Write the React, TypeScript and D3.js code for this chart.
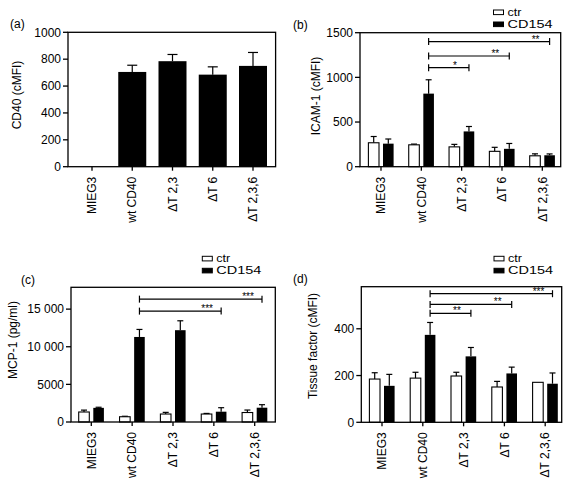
import React from "react";
import * as d3 from "d3";

const categories = ["MIEG3", "wt CD40", "ΔT 2,3", "ΔT 6", "ΔT 2,3,6"];

// (a) CD40
const cd40Mean = [0, 705, 785, 685, 750];
const cd40Err = [0, 50, 50, 58, 100];
const cd40Ticks = [0, 200, 400, 600, 800, 1000];

// (b) ICAM-1
const icamCtr = [268, 245, 222, 172, 122];
const icamCtrErr = [70, 8, 28, 45, 22];
const icamCd154 = [258, 818, 395, 200, 128];
const icamCd154Err = [52, 155, 55, 60, 15];
const icamTicks = [0, 500, 1000, 1500];
const icamSigTargets = ["ΔT 2,3", "ΔT 6", "ΔT 2,3,6"];
const icamSigLevels = [1108, 1239, 1401];
const icamSigLabels = ["*", "**", "**"];

// (c) MCP-1
const mcpCtr = [1330, 700, 1060, 1060, 1260];
const mcpCtrErr = [250, 60, 220, 80, 330];
const mcpCd154 = [1880, 11300, 12200, 1370, 1900];
const mcpCd154Err = [80, 1000, 1250, 530, 400];
const mcpTicks = [0, 5000, 10000, 15000];
const mcpTickLabels = ["0", "5000", "10 000", "15 000"];
const mcpSigTargets = ["ΔT 6", "ΔT 2,3,6"];
const mcpSigLevels = [14735, 16328];
const mcpSigLabels = ["***", "***"];

// (d) Tissue factor
const tfCtr = [185, 189, 198, 151, 171];
const tfCtrErr = [27, 25, 16, 24, 0];
const tfCd154 = [156, 374, 282, 209, 165];
const tfCd154Err = [49, 53, 38, 27, 46];
const tfTicks = [0, 200, 400];
const tfSigTargets = ["ΔT 2,3", "ΔT 6", "ΔT 2,3,6"];
const tfSigLevels = [466, 504, 550];
const tfSigLabels = ["**", "**", "***"];

const legendLabels = ["ctr", "CD154"];
const legendTextWidths = [14, 45];

const FONT = "'Liberation Sans', Arial, Helvetica, sans-serif";

type PanelCfg = {
  tag: string;
  title: string;
  left: number; right: number; top: number; bottom: number;
  x0: number; x1: number;
  yMax: number;
  ticks: number[];
  tickLabels?: string[];
  single?: { mean: number[]; err: number[] };
  pair?: { ctr: number[]; ctrErr: number[]; cd: number[]; cdErr: number[] };
  sig?: { targets: string[]; levels: number[]; labels: string[] };
  titleX: number; titleY: number;
  tagX: number; tagY: number;
  legend?: { x: number; y: number };
};

function Panel({ c }: { c: PanelCfg }) {
  const y = d3.scaleLinear().domain([0, c.yMax]).range([c.bottom, c.top]);
  const x = d3.scalePoint<string>().domain(categories).range([c.x0, c.x1]);
  const sw = 1.3;
  const off = 7.3;
  const bw = 10.6;
  const elems: React.ReactNode[] = [];

  const errBar = (key: string, cx: number, v: number, e: number, cap: number) => {
    if (e <= 0) return null;
    return (
      <g key={key}>
        <line x1={cx} x2={cx} y1={y(v)} y2={y(v + e)} stroke="#000" strokeWidth={1.2} />
        <line x1={cx - cap / 2} x2={cx + cap / 2} y1={y(v + e)} y2={y(v + e)} stroke="#000" strokeWidth={1.2} />
      </g>
    );
  };

  if (c.single) {
    const w = 28;
    c.single.mean.forEach((m, i) => {
      const cx = x(categories[i])!;
      if (m > 0) {
        elems.push(<rect key={"b" + i} x={cx - w / 2} y={y(m)} width={w} height={c.bottom - y(m)} fill="#000" />);
        elems.push(errBar("e" + i, cx, m, c.single!.err[i], 10));
      }
    });
  }
  if (c.pair) {
    const p = c.pair;
    categories.forEach((cat, i) => {
      const cx = x(cat)!;
      elems.push(errBar("ec" + i, cx - off, p.ctr[i], p.ctrErr[i], 6));
      elems.push(errBar("ed" + i, cx + off, p.cd[i], p.cdErr[i], 6));
      elems.push(
        <rect key={"c" + i} x={cx - off - bw / 2} y={y(p.ctr[i])} width={bw} height={c.bottom - y(p.ctr[i])}
          fill="#fff" stroke="#000" strokeWidth={1.1} />
      );
      elems.push(
        <rect key={"d" + i} x={cx + off - bw / 2} y={y(p.cd[i])} width={bw} height={c.bottom - y(p.cd[i])} fill="#000" />
      );
    });
  }

  const sigs: React.ReactNode[] = [];
  if (c.sig) {
    const sx = x("wt CD40")! + off;
    c.sig.targets.forEach((t, i) => {
      const ex = x(t)! + off;
      const yy = y(c.sig!.levels[i]);
      sigs.push(
        <g key={"s" + i}>
          <line x1={sx} x2={ex} y1={yy} y2={yy} stroke="#000" strokeWidth={1.2} />
          <line x1={sx} x2={sx} y1={yy - 3.5} y2={yy + 3.5} stroke="#000" strokeWidth={1.2} />
          <line x1={ex} x2={ex} y1={yy - 3.5} y2={yy + 3.5} stroke="#000" strokeWidth={1.2} />
          <text x={ex - 14} y={yy + 1} fontSize={10} textAnchor="middle" fontFamily={FONT}>{c.sig!.labels[i]}</text>
        </g>
      );
    });
  }

  return (
    <g>
      {elems}
      {sigs}
      <rect x={c.left} y={c.top} width={c.right - c.left} height={c.bottom - c.top} fill="none" stroke="#000" strokeWidth={sw} />
      {c.ticks.map((t, i) => (
        <g key={"yt" + i}>
          <line x1={c.left - 5} x2={c.left} y1={y(t)} y2={y(t)} stroke="#000" strokeWidth={sw} />
          <text x={c.left - 7} y={y(t)} dy="0.35em" textAnchor="end" fontSize={12} fontFamily={FONT}>
            {c.tickLabels ? c.tickLabels[i] : String(t)}
          </text>
        </g>
      ))}
      {categories.map((cat) => (
        <g key={"xt" + cat}>
          <line x1={x(cat)!} x2={x(cat)!} y1={c.bottom} y2={c.bottom + 4} stroke="#000" strokeWidth={sw} />
          <text transform={`translate(${x(cat)!},${c.bottom + 10}) rotate(-90)`} dy="0.35em" textAnchor="end"
            fontSize={12} fontFamily={FONT}>{cat}</text>
        </g>
      ))}
      <text transform={`translate(${c.titleX},${c.titleY}) rotate(-90)`} textAnchor="middle" dominantBaseline="central"
        fontSize={12} fontFamily={FONT}>{c.title}</text>
      <text x={c.tagX} y={c.tagY} fontSize={12} fontFamily={FONT}>{c.tag}</text>
      {c.legend && legendLabels.map((l, i) => (
        <g key={"lg" + i} transform={`translate(${c.legend!.x},${c.legend!.y - 0.4 + i * 12})`}>
          <rect x={0} y={-2.3} width={10} height={4.6} fill={i === 0 ? "#fff" : "#000"} stroke="#000" strokeWidth={1} />
          <text x={14} y={0} dy="0.35em" fontSize={10.5} fontFamily={FONT}
            textLength={legendTextWidths[i]} lengthAdjust="spacingAndGlyphs">{l}</text>
        </g>
      ))}
    </g>
  );
}

const panels: PanelCfg[] = [
  {
    tag: "(a)", title: "CD40 (cMFI)",
    left: 68, right: 275.6, top: 32.3, bottom: 166.7, x0: 92, x1: 253,
    yMax: 1000, ticks: cd40Ticks,
    single: { mean: cd40Mean, err: cd40Err },
    titleX: 17, titleY: 95, tagX: 10, tagY: 28,
  },
  {
    tag: "(b)", title: "ICAM-1 (cMFI)",
    left: 360, right: 560.7, top: 32.7, bottom: 166.7, x0: 381, x1: 542.3,
    yMax: 1500, ticks: icamTicks,
    pair: { ctr: icamCtr, ctrErr: icamCtrErr, cd: icamCd154, cdErr: icamCd154Err },
    sig: { targets: icamSigTargets, levels: icamSigLevels, labels: icamSigLabels },
    titleX: 316, titleY: 96, tagX: 293, tagY: 29,
    legend: { x: 493.5, y: 12.7 },
  },
  {
    tag: "(c)", title: "MCP-1 (pg/ml)",
    left: 71, right: 275.3, top: 287.3, bottom: 422, x0: 91.3, x1: 254.7,
    yMax: 17900, ticks: mcpTicks, tickLabels: mcpTickLabels,
    pair: { ctr: mcpCtr, ctrErr: mcpCtrErr, cd: mcpCd154, cdErr: mcpCd154Err },
    sig: { targets: mcpSigTargets, levels: mcpSigLevels, labels: mcpSigLabels },
    titleX: 13, titleY: 340, tagX: 21, tagY: 284,
    legend: { x: 202.3, y: 259 },
  },
  {
    tag: "(d)", title: "Tissue factor (cMFI)",
    left: 361.3, right: 561.7, top: 286.7, bottom: 422.3, x0: 382, x1: 545.2,
    yMax: 580, ticks: tfTicks,
    pair: { ctr: tfCtr, ctrErr: tfCtrErr, cd: tfCd154, cdErr: tfCd154Err },
    sig: { targets: tfSigTargets, levels: tfSigLevels, labels: tfSigLabels },
    titleX: 313, titleY: 346, tagX: 293, tagY: 283,
    legend: { x: 494, y: 259 },
  },
];

export default function App() {
  return (
    <svg width={568} height={481} style={{ position: "absolute", left: 0, top: 0, background: "#fff" }}>
      <rect width={568} height={481} fill="#fff" />
      {panels.map((p) => <Panel key={p.tag} c={p} />)}
    </svg>
  );
}
